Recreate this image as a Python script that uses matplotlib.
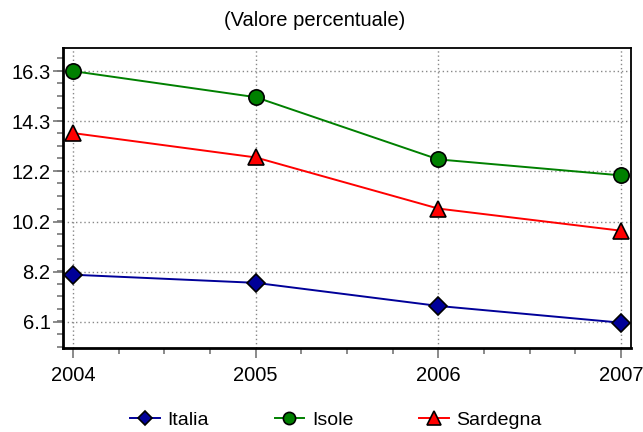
import matplotlib.pyplot as plt
from matplotlib.ticker import FixedLocator, MultipleLocator

plt.rcParams['font.family'] = ['Liberation Sans', 'DejaVu Sans']

anni = [2004, 2005, 2006, 2007]
italia = [8.02, 7.69, 6.75, 6.07]
isole = [16.3, 15.24, 12.71, 12.06]
sardegna = [13.78, 12.79, 10.71, 9.81]

yticks = [6.1, 8.14, 10.18, 12.22, 14.26, 16.3]
ylabels = ['6.1', '8.2', '10.2', '12.2', '14.3', '16.3']

fig = plt.figure(figsize=(6.43, 4.32), dpi=100)
ax = fig.add_axes([63 / 643, 1 - 348 / 432, 568 / 643, 300 / 432])

ax.plot(anni, italia, '-D', color='#000099', mfc='#000099', mec='black',
        mew=1.2, ms=9, lw=1.4, label='Italia', zorder=3)
ax.plot(anni, isole, '-o', color='#008000', mfc='#008000', mec='black',
        mew=1.2, ms=11, lw=1.4, label='Isole', zorder=3)
ax.plot(anni, sardegna, '-^', color='#ff0000', mfc='#ff0000', mec='black',
        mew=1.2, ms=12, lw=1.4, label='Sardegna', zorder=3)

ax.set_xlim(2003.945, 2007.055)
ax.set_ylim(5.04, 17.24)

ax.xaxis.set_major_locator(FixedLocator(anni))
ax.xaxis.set_minor_locator(MultipleLocator(0.25))
ax.yaxis.set_major_locator(FixedLocator(yticks))
ax.yaxis.set_minor_locator(MultipleLocator(0.51))
ax.set_yticklabels(ylabels)
ax.set_xticklabels([str(a) for a in anni])

ax.grid(True, which='major', color='#888888', linestyle=(0, (1, 2)), lw=1)
ax.tick_params(which='major', length=7, width=1.2, color='#777777',
               labelsize=14.5)
ax.tick_params(axis='y', which='major', pad=2)
ax.tick_params(axis='x', which='major', pad=6)
ax.tick_params(which='minor', length=4, width=1.2, color='#777777')

for side in ['left', 'bottom']:
    ax.spines[side].set_linewidth(2)
for side in ['top', 'right']:
    ax.spines[side].set_linewidth(1.3)

fig.text(315 / 643, 1 - 20 / 432, '(Valore percentuale)', ha='center',
         va='center', fontsize=14.5)

fig.legend(loc='center', bbox_to_anchor=(336 / 643, 1 - 420 / 432), ncol=3,
           frameon=False, fontsize=14, columnspacing=3.4, handlelength=1.5,
           handletextpad=0.4, markerscale=0.8)

fig.savefig('out.png', dpi=100)
